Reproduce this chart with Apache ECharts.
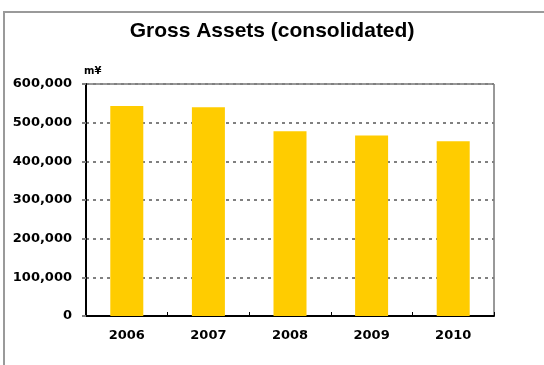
<!DOCTYPE html>
<html>
<head>
<meta charset="utf-8">
<script src="https://cdn.jsdelivr.net/npm/echarts@6/dist/echarts.min.js"></script>
<style>
  html, body { margin: 0; padding: 0; background: #ffffff; }
  #chart { width: 544px; height: 365px; }
</style>
</head>
<body>
<div id="chart"></div>
<script>
// Gross assets by fiscal year, in millions of yen
const years = ['2006', '2007', '2008', '2009', '2010'];
const grossAssets = [543000, 540000, 478000, 467000, 452000];
const yTicks = { min: 0, max: 600000, interval: 100000 };

const chart = echarts.init(document.getElementById('chart'), null, { renderer: 'canvas' });

const labelFont = 'DejaVu Sans';

chart.setOption({
  backgroundColor: '#ffffff',
  animation: false,
  title: {
    text: 'Gross Assets (consolidated)',
    left: 'center',
    top: 16,
    textStyle: {
      fontFamily: 'Liberation Sans, Arial, sans-serif',
      fontWeight: 'bold',
      fontSize: 21,
      color: '#000000'
    }
  },
  graphic: [
    {
      // outer frame around the chart
      type: 'rect',
      silent: true,
      shape: { x: 4, y: 12, width: 620, height: 420 },
      style: { fill: null, stroke: '#9a9a9a', lineWidth: 2 }
    }
  ],
  grid: {
    left: 86,
    right: 50,
    top: 84,
    bottom: 49,
    show: true,
    borderColor: '#333333',
    borderWidth: 1,
    backgroundColor: 'transparent'
  },
  xAxis: {
    type: 'category',
    data: years,
    boundaryGap: true,
    axisLine: { show: true, lineStyle: { color: '#000000', width: 2 } },
    axisTick: { show: true, inside: true, length: 4, lineStyle: { color: '#000000', width: 1 } },
    axisLabel: {
      margin: 13,
      fontFamily: labelFont,
      fontWeight: 'bold',
      fontSize: 13,
      color: '#000000'
    },
    splitLine: { show: false }
  },
  yAxis: {
    type: 'value',
    min: yTicks.min,
    max: yTicks.max,
    interval: yTicks.interval,
    name: 'm¥',
    nameLocation: 'end',
    nameGap: 8,
    nameTextStyle: {
      fontFamily: labelFont,
      fontWeight: 'bold',
      fontSize: 10,
      color: '#000000',
      align: 'left',
      padding: [0, 0, 0, -2]
    },
    axisLine: { show: true, lineStyle: { color: '#000000', width: 2 } },
    axisTick: { show: true, inside: false, length: 4, lineStyle: { color: '#808080', width: 2 } },
    axisLabel: {
      margin: 14,
      fontFamily: labelFont,
      fontWeight: 'bold',
      fontSize: 13,
      color: '#000000',
      formatter: function (v) { return v.toLocaleString('en-US'); }
    },
    splitLine: {
      show: true,
      lineStyle: { color: '#808080', width: 2, type: [3, 4] }
    }
  },
  series: [
    {
      type: 'bar',
      data: grossAssets,
      barWidth: 33,
      itemStyle: { color: '#ffcc00' }
    }
  ]
});
</script>
</body>
</html>
